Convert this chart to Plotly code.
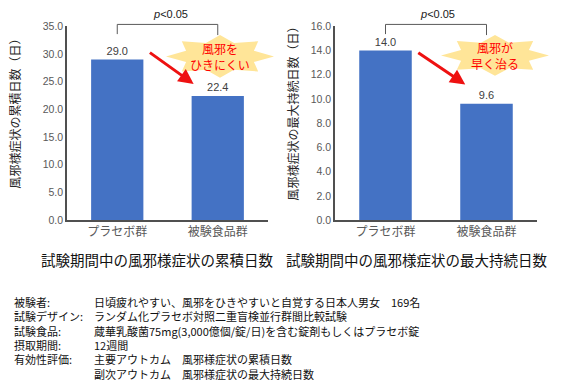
import math
import plotly.graph_objects as go

W, H = 565, 384

# ---------------- data ----------------
categories = ["プラセボ群", "被験食品群"]
cumulative_days = [29.0, 22.4]
max_duration_days = [14.0, 9.6]
left_title = "試験期間中の風邪様症状の累積日数"
right_title = "試験期間中の風邪様症状の最大持続日数"
left_ytitle = "風邪様症状の累積日数（日）"
right_ytitle = "風邪様症状の最大持続日数（日）"
left_badge = ["風邪を", "ひきにくい"]
right_badge = ["風邪が", "早く治る"]
info_labels = ["被験者:", "試験デザイン:", "試験食品:", "摂取期間:", "有効性評価:", ""]
info_values = [
    "日頃疲れやすい、風邪をひきやすいと自覚する日本人男女　169名",
    "ランダム化プラセボ対照二重盲検並行群間比較試験",
    "蔵華乳酸菌75mg(3,000億個/錠/日)を含む錠剤もしくはプラセボ錠",
    "12週間",
    "主要アウトカム　風邪様症状の累積日数",
    "副次アウトカム　風邪様症状の最大持続日数",
]

FONT = "Liberation Sans, Arial, Noto Sans CJK JP, sans-serif"
JFONT = "Noto Sans CJK JP, sans-serif"
BAR = "#4472C4"
GREY = "#595959"


def px(x):
    return x / W


def py(y):
    return 1 - y / H


fig = go.Figure()
fig.add_trace(go.Bar(
    x=categories, y=cumulative_days, xaxis="x", yaxis="y",
    marker=dict(color=BAR, line=dict(width=0)), width=0.52,
    text=[f"{v:.1f}" for v in cumulative_days], textposition="outside",
    textfont=dict(size=11, color="#404040", family=FONT), cliponaxis=False,
))
fig.add_trace(go.Bar(
    x=categories, y=max_duration_days, xaxis="x2", yaxis="y2",
    marker=dict(color=BAR, line=dict(width=0)), width=0.52,
    text=[f"{v:.1f}" for v in max_duration_days], textposition="outside",
    textfont=dict(size=11, color="#404040", family=FONT), cliponaxis=False,
))

axis_common = dict(showgrid=False, zeroline=False, showline=True,
                   linecolor="#505050", linewidth=1.5, ticks="", fixedrange=True)

fig.update_layout(
    width=W, height=H, margin=dict(l=0, r=0, t=0, b=0),
    paper_bgcolor="white", plot_bgcolor="white", showlegend=False,
    xaxis=dict(domain=[px(67), px(268)], anchor="y", range=[-0.5, 1.5],
               tickfont=dict(size=12, color=GREY, family=JFONT), **axis_common),
    yaxis=dict(domain=[py(221), py(21)], anchor="x", range=[0, 35], dtick=5,
               tickformat=".1f", tickfont=dict(size=10.5, color=GREY, family=FONT),
               **axis_common),
    xaxis2=dict(domain=[px(335), px(537)], anchor="y2", range=[-0.5, 1.5],
                tickfont=dict(size=12, color=GREY, family=JFONT), **axis_common),
    yaxis2=dict(domain=[py(221), py(21)], anchor="x2", range=[0, 16], dtick=2,
                tickformat=".1f", tickfont=dict(size=10.5, color=GREY, family=FONT),
                **axis_common),
)

annotations = []
shapes = []


def label(x, y, text, font, **kw):
    d = dict(x=px(x), y=py(y), xref="paper", yref="paper", text=text, showarrow=False,
             xanchor="center", yanchor="middle", font=font)
    d.update(kw)
    annotations.append(d)


# chart titles
for cx, t in [(157, left_title), (416, right_title)]:
    label(cx, 262, t, dict(size=14.5, color="#111111", family=JFONT))
# y-axis titles
for cx, t in [(15, left_ytitle), (293, right_ytitle)]:
    label(cx, 108, t, dict(size=12, color="#262626", family=JFONT), textangle=-90)


def star_path(cx, cy, rx, ry, n=8, inner=0.68):
    pts = []
    for i in range(2 * n):
        a = math.pi / 2 + i * math.pi / n
        r = 1.0 if i % 2 == 0 else inner
        pts.append((cx + rx * r * math.cos(a), cy - ry * r * math.sin(a)))
    return "M " + " L ".join(f"{px(x):.5f},{py(y):.5f}" for x, y in pts) + " Z"


panels = [
    dict(xr="x", star=(220, 52, 54, 22), badge=left_badge, pcx=170),
    dict(xr="x2", star=(495, 51, 54, 21), badge=right_badge, pcx=437),
]
for p in panels:
    xr = p["xr"]
    # significance bracket
    shapes.append(dict(type="line", xref=xr, yref="paper", x0=categories[0], x1=categories[0],
                       y0=py(29), y1=py(19), line=dict(color="#595959", width=1)))
    shapes.append(dict(type="line", xref=xr, yref="paper", x0=categories[1], x1=categories[1],
                       y0=py(30), y1=py(19), line=dict(color="#595959", width=1)))
    shapes.append(dict(type="line", xref=xr, yref="paper", x0=categories[0], x1=categories[1],
                       y0=py(19), y1=py(19), line=dict(color="#595959", width=1)))
    label(p["pcx"], 8, "<i>p</i>&lt;0.05", dict(size=11, color="#1a1a1a", family=FONT))
    # starburst badge
    cx, cy, rx, ry = p["star"]
    shapes.append(dict(type="path", xref="paper", yref="paper",
                       path=star_path(cx, cy, rx, ry),
                       fillcolor="#FFE598", line=dict(width=0), layer="above"))
    label(cx, cy, "<br>".join(p["badge"]), dict(size=12, color="#FF0000", family=JFONT))

# red arrows (data coordinates)
annotations.append(dict(xref="x", yref="y", axref="x", ayref="y",
                        x=0.76, y=24.6, ax=0.31, ay=30.45, text="", showarrow=True,
                        arrowhead=2, arrowsize=1.0, arrowwidth=3, arrowcolor="#EE1111"))
annotations.append(dict(xref="x2", yref="y2", axref="x2", ayref="y2",
                        x=0.79, y=11.2, ax=0.31, ay=13.9, text="", showarrow=True,
                        arrowhead=2, arrowsize=1.0, arrowwidth=3, arrowcolor="#EE1111"))

# info block: two multi-line columns
info_font = dict(size=11, color="#111111", family=JFONT)
annotations.append(dict(x=px(12), y=py(295), xref="paper", yref="paper",
                        text="<br>".join(l if l else "&#8203;" for l in info_labels),
                        showarrow=False, xanchor="left", yanchor="top", align="left",
                        font=info_font))
annotations.append(dict(x=px(92), y=py(295), xref="paper", yref="paper",
                        text="<br>".join(info_values),
                        showarrow=False, xanchor="left", yanchor="top", align="left",
                        font=info_font))

fig.update_layout(annotations=annotations, shapes=shapes)
fig.write_html("out.html", config={"displayModeBar": False},
               post_script="document.body.style.margin='0';document.body.style.overflow='hidden';")
